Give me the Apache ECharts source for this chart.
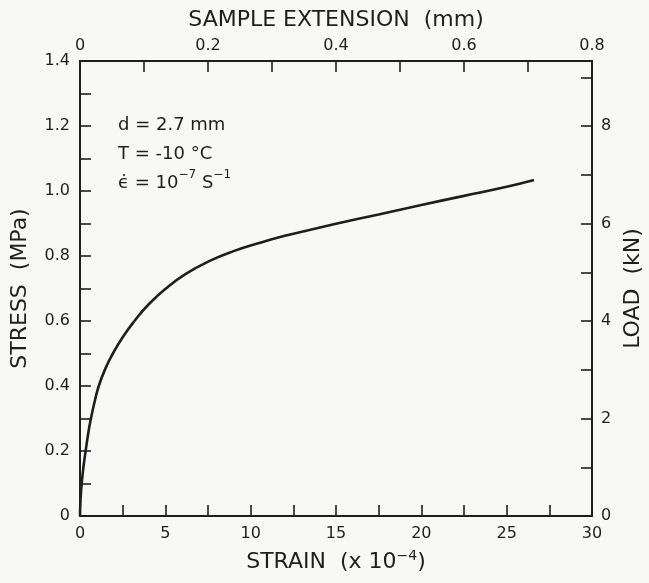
<!DOCTYPE html>
<html>
<head>
<meta charset="utf-8">
<script src="https://cdn.jsdelivr.net/npm/echarts@6/dist/echarts.min.js"></script>
<style>
html,body{margin:0;padding:0;background:#f8f9f7;}
#chart{width:649px;height:583px;}
</style>
</head>
<body>
<div id="chart"></div>
<script>
// Strain (x10^-4) and stress (MPa)
const strainValues = [0, 0.03, 0.1, 0.2, 0.33, 0.5, 0.64, 0.85, 1.1, 1.5, 1.93, 2.5, 3.19, 4.0, 5.03, 6.2, 7.6, 9.0, 10.5, 12, 13.5, 15, 17.5, 20, 22.5, 25, 26.6];
const stressValues = [0, 0.05, 0.1, 0.15, 0.2, 0.26, 0.3, 0.35, 0.4, 0.455, 0.5, 0.55, 0.6, 0.65, 0.7, 0.745, 0.785, 0.815, 0.84, 0.862, 0.881, 0.899, 0.928, 0.957, 0.985, 1.013, 1.034];

// Tick labels
const strainLabels = ['0', '5', '10', '15', '20', '25', '30'];
const extensionLabels = ['0', '0.2', '0.4', '0.6', '0.8'];
const stressLabels = ['0', '0.2', '0.4', '0.6', '0.8', '1.0', '1.2', '1.4'];
const loadLabels = ['0', '2', '4', '6', '8'];

// Axis ranges
const strainMax = 30;
const extensionMax = 0.8;
const stressMax = 1.4;
const loadPerStress = 20 / 3; // kN per MPa
const loadMax = stressMax * loadPerStress;

const FONT = 'DejaVu Sans';
const INK = '#1e1e1e';

function fmt(labels, digits) {
  return function (v) {
    const s = (Math.abs(v) < 1e-9) ? '0' : (digits ? v.toFixed(digits) : String(Math.round(v * 1000) / 1000));
    return labels.indexOf(s) >= 0 ? s : '';
  };
}

const nameStyle = {
  color: INK, fontFamily: FONT, fontSize: 22,
  rich: { sup: { color: INK, fontFamily: FONT, fontSize: 14, verticalAlign: 'top', padding: [0, 0, 13, 0] } }
};

const axisCommon = {
  splitLine: { show: false },
  axisLine: { show: true, onZero: false, lineStyle: { color: INK, width: 2 } },
  axisTick: { show: true, inside: true, length: 11, lineStyle: { color: INK, width: 1.6 } },
  axisLabel: { color: INK, fontFamily: FONT, fontSize: 16, margin: 10 },
  nameTextStyle: nameStyle,
  nameLocation: 'middle'
};

const chart = echarts.init(document.getElementById('chart'));
chart.setOption({
  backgroundColor: '#f8f9f7',
  animation: false,
  grid: { left: 80, right: 57, top: 61, bottom: 67, containLabel: false, outerBoundsMode: 'none' },
  xAxis: [
    Object.assign({}, axisCommon, {
      type: 'value', position: 'bottom', min: 0, max: strainMax, interval: 2.5,
      name: 'STRAIN  (x 10{sup|\u22124})', nameGap: 33,
      axisLabel: Object.assign({}, axisCommon.axisLabel, { formatter: fmt(strainLabels, 0) })
    }),
    Object.assign({}, axisCommon, {
      type: 'value', position: 'top', min: 0, max: extensionMax, interval: 0.1,
      name: 'SAMPLE EXTENSION  (mm)', nameGap: 30,
      axisLabel: Object.assign({}, axisCommon.axisLabel, { margin: 7, formatter: fmt(extensionLabels, 1) })
    })
  ],
  yAxis: [
    Object.assign({}, axisCommon, {
      type: 'value', position: 'left', min: 0, max: stressMax, interval: 0.1,
      name: 'STRESS  (MPa)', nameGap: 49, nameRotate: 90,
      axisLabel: Object.assign({}, axisCommon.axisLabel, { formatter: fmt(stressLabels, 1) })
    }),
    Object.assign({}, axisCommon, {
      type: 'value', position: 'right', min: 0, max: loadMax, interval: 1,
      name: 'LOAD  (kN)', nameGap: 28, nameRotate: 90,
      axisLabel: Object.assign({}, axisCommon.axisLabel, { margin: 9, formatter: fmt(loadLabels, 0) })
    })
  ],
  series: [{
    type: 'line',
    xAxisIndex: 0,
    yAxisIndex: 0,
    data: strainValues.map((s, i) => [s, stressValues[i]]),
    showSymbol: false,
    smooth: true,
    lineStyle: { color: INK, width: 2.6 }
  }],
  graphic: [{
    type: 'text',
    left: 118, top: 111,
    style: {
      text: 'd = 2.7 mm\n{t|T = -10 \u00B0C}\n{e|\u03F5\u0307 = 10}{sup|\u22127}{e| S}{sup|\u22121}',
      font: '18px "' + FONT + '"',
      fill: INK,
      lineHeight: 29,
      rich: {
        t: { fontFamily: FONT, fontSize: 18, lineHeight: 29, fill: INK },
        e: { fontFamily: FONT, fontSize: 18, lineHeight: 29, fill: INK },
        sup: { fontFamily: FONT, fontSize: 12, verticalAlign: 'top', lineHeight: 29, padding: [0, 0, 10, 0], fill: INK }
      }
    }
  }]
});
</script>
</body>
</html>
